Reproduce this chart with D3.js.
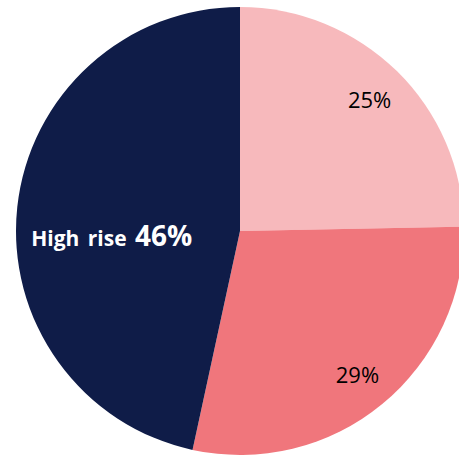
<!DOCTYPE html>
<html>
<head>
<meta charset="utf-8">
<script src="https://cdn.jsdelivr.net/npm/d3@7"></script>
<style>
  html, body { margin: 0; padding: 0; background: #fff; }
  svg { display: block; }
</style>
</head>
<body>
<svg id="chart" width="459" height="458"></svg>
<script>
const categories = ["Low rise", "Mid rise", "High rise"];
const values = [24.7, 28.7, 46.6];
const labels = ["25%", "29%", "46%"];
const colors = ["#F7B9BC", "#F0767C", "#0F1C48"];

const svg = d3.select("#chart");
const cx = 240, cy = 231, r = 224;
const g = svg.append("g").attr("transform", `translate(${cx},${cy})`);

const pie = d3.pie().sort(null).value(d => d.v);
const data = pie(categories.map((c, i) => ({ c, v: values[i], label: labels[i], color: colors[i] })));

const arc = d3.arc().innerRadius(0).outerRadius(r);
g.selectAll("path").data(data).join("path")
  .attr("d", arc)
  .attr("fill", d => d.data.color);

const labelArc = d3.arc().innerRadius(185).outerRadius(185);
const bigArc = d3.arc().innerRadius(129).outerRadius(129);

data.forEach((d, i) => {
  if (i < 2) {
    const [x, y] = labelArc.centroid(d);
    g.append("text")
      .attr("x", x).attr("y", y)
      .attr("text-anchor", "middle")
      .attr("dominant-baseline", "central")
      .attr("font-family", "'Open Sans', sans-serif")
      .attr("font-size", 22)
      .attr("fill", "#000")
      .text(d.data.label);
  } else {
    const [x, y] = bigArc.centroid(d);
    const t = g.append("text")
      .attr("x", x).attr("y", y + 29)
      .attr("text-anchor", "middle")
      .attr("font-family", "'Open Sans', sans-serif")
      .attr("font-weight", "bold")
      .attr("fill", "#fff");
    t.append("tspan").attr("font-size", 21).attr("word-spacing", 3).text(d.data.c + " ");
    t.append("tspan").attr("font-size", 28).text(d.data.label);
  }
});
</script>
</body>
</html>
